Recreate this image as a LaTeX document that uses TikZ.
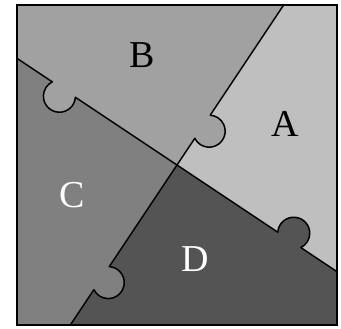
\documentclass[tikz,border=0pt]{standalone}
\usepackage{fontspec}
\setmainfont{Liberation Serif}
\usepackage{tikz}
\usetikzlibrary{positioning}

\definecolor{pieceA}{gray}{0.75}
\definecolor{pieceB}{gray}{0.63}
\definecolor{pieceC}{gray}{0.5}
\definecolor{pieceD}{gray}{0.33}

\tikzset{
    seam/.style={line width=1.5pt, line cap=round, line join=round},
    boxline/.style={line width=2pt},
    letter/.style={inner sep=0pt, font=\fontsize{38}{38}\selectfont},
}

% one cut from the centre to the edge, with its tab
% #1 angle, #2 distance of tab, #3 side (1 or -1), #4 colour of tab
\newcommand\tabcut[4]{%
    \begin{scope}[shift={(O)}, rotate=#1]
        \fill[#4] (#2, 8*#3) circle (16);
        \draw[seam] (0,0) -- ({#2-13.86},0)
            arc[start angle={180+30*#3}, end angle={180-210*#3}, radius=16]
            -- (192.3,0);
    \end{scope}}

\begin{document}
\begin{tikzpicture}[x=1pt, y=1pt]
        \useasboundingbox (0,0) rectangle (341,329);
        \coordinate (O) at (177,164);
        \coordinate (bl) at (17,4);
        \coordinate (br) at (337,4);
        \coordinate (tr) at (337,324);
        \coordinate (tl) at (17,324);
        \path (O) ++(-33.69:192.3) coordinate (eR)
              (O) ++(56.31:192.3) coordinate (eT)
              (O) ++(146.31:192.3) coordinate (eL)
              (O) ++(236.31:192.3) coordinate (eB);

        % the four pieces
        \fill[pieceA] (O) -- (eR) -- (tr) -- (eT) -- cycle;
        \fill[pieceB] (O) -- (eT) -- (tl) -- (eL) -- cycle;
        \fill[pieceC] (O) -- (eL) -- (bl) -- (eB) -- cycle;
        \fill[pieceD] (O) -- (eB) -- (br) -- (eR) -- cycle;

        \tabcut{-33.69}{135}{1}{pieceD}
        \tabcut{56.31}{46}{-1}{pieceB}
        \tabcut{146.31}{136}{1}{pieceB}
        \tabcut{236.31}{136}{1}{pieceC}

        \draw[boxline] (bl) rectangle (tr);

        \node[letter] (labA) at (285.5,205) {A};
        \node[letter] (labB) at (141.7,274) {B};
        \node[letter, white] (labC) at (72,134) {C};
        \node[letter, white] (labD) at (195.3,70) {D};
    \end{tikzpicture}
\end{document}
